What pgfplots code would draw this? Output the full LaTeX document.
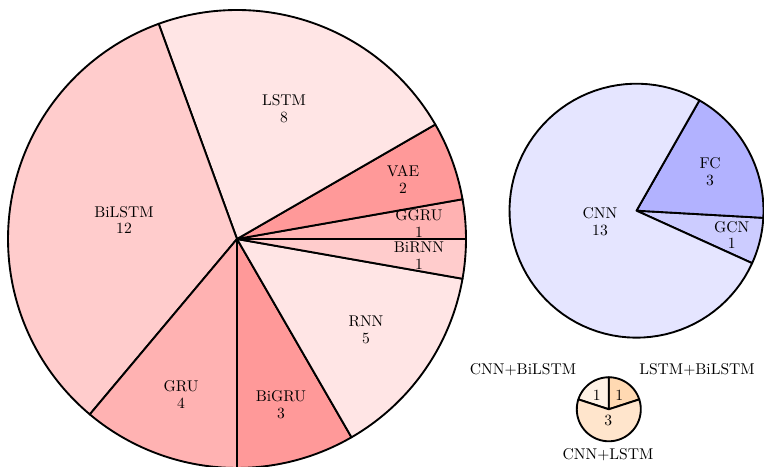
\documentclass[border=0pt]{standalone}
\usepackage{pgfplots}
\pgfplotsset{compat=1.18}
\newcommand\lbl{\fontsize{10}{10.7}\selectfont}
% \drawpie{cx}{cy}{r}{start angle}{total}{value/colour list}
\newcommand{\drawpie}[6]{%
  \xdef\cumang{#4}%
  \foreach \v/\c in {#6} {%
    \pgfmathsetmacro\aend{\cumang+\v*360/#5}%
    \edef\temp{\noexpand\addplot[draw=black, line width=1.2pt, line join=round, fill=\c, mark=none, domain=\cumang:\aend, samples=80] ({#1+#3*cos(x)},{#2+#3*sin(x)}) -- (axis cs:#1,#2) -- cycle;}%
    \temp
    \xdef\cumang{\aend}%
  }}
\begin{document}
\begin{tikzpicture}
\begin{axis}[scale only axis, width=490pt, height=299.5pt,
  xmin=0, xmax=764, ymin=0, ymax=467, hide axis, clip=true]
\addplot[draw=none, mark=none] coordinates {(0,0) (764,467)};
% left pie: GGRU, VAE, LSTM, BiLSTM, GRU, BiGRU, RNN, BiRNN
\drawpie{237}{228}{229}{0}{36}{1/red!30, 2/red!40, 8/red!10, 12/red!20, 4/red!30, 3/red!40, 5/red!10, 1/red!20}
% right pie: GCN, FC, CNN
\drawpie{636.5}{256.3}{127}{-24.4}{17}{1/blue!20, 3/blue!30, 13/blue!10}
% small pie: LSTM+BiLSTM, CNN+BiLSTM, CNN+LSTM
\drawpie{608.8}{57.7}{32}{18}{5}{1/orange!30, 1/orange!10, 3/orange!20}
\end{axis}
\begin{axis}[scale only axis, width=490pt, height=299.5pt,
  xmin=0, xmax=764, ymin=0, ymax=467, hide axis, clip=false]
\node[align=center, font=\lbl] at (axis cs:284,358.5) {LSTM\\8};
\node[align=center, font=\lbl] at (axis cs:403,287.5) {VAE\\2};
\node[align=center, font=\lbl] at (axis cs:419,243.5) {GGRU\\1};
\node[align=center, font=\lbl] at (axis cs:419,211.5) {BiRNN\\1};
\node[align=center, font=\lbl] at (axis cs:366,137) {RNN\\5};
\node[align=center, font=\lbl] at (axis cs:281,62.5) {BiGRU\\3};
\node[align=center, font=\lbl] at (axis cs:181,72.5) {GRU\\4};
\node[align=center, font=\lbl] at (axis cs:124,247) {BiLSTM\\12};
\node[align=center, font=\lbl] at (axis cs:600,245) {CNN\\13};
\node[align=center, font=\lbl] at (axis cs:710,295) {FC\\3};
\node[align=center, font=\lbl] at (axis cs:731.7,232) {GCN\\1};
\node[font=\lbl] at (axis cs:596.7,72) {1};
\node[font=\lbl] at (axis cs:619.3,72) {1};
\node[font=\lbl] at (axis cs:608.3,46) {3};
\node[font=\lbl] at (axis cs:523,97) {CNN+BiLSTM};
\node[font=\lbl] at (axis cs:697,97) {LSTM+BiLSTM};
\node[font=\lbl] at (axis cs:608,12) {CNN+LSTM};
\end{axis}
\end{tikzpicture}
\end{document}
